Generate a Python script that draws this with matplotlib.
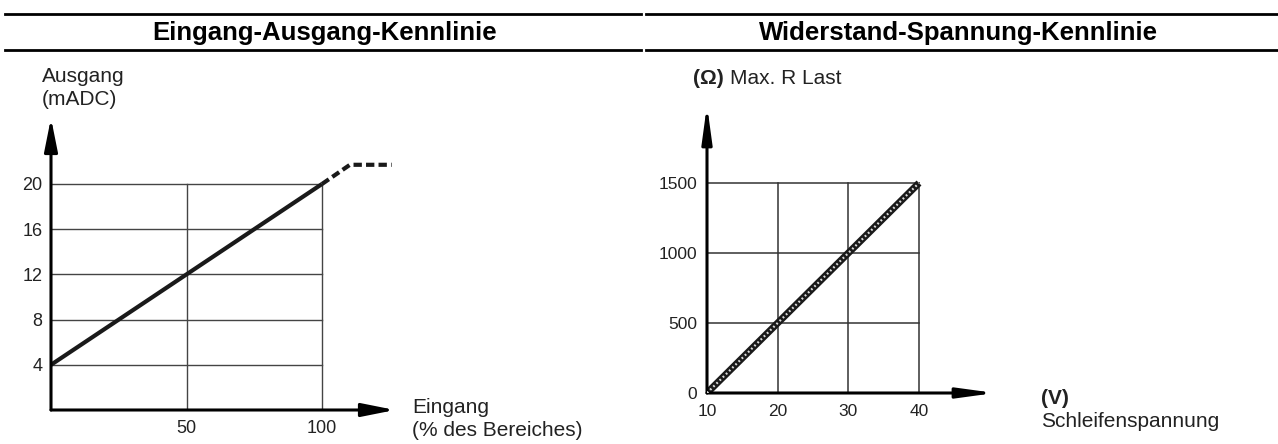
import matplotlib
matplotlib.use("Agg")
import matplotlib.pyplot as plt

plt.rcParams['font.family'] = ['Liberation Sans', 'DejaVu Sans']

# ---- data ----
left_title = "Eingang-Ausgang-Kennlinie"
right_title = "Widerstand-Spannung-Kennlinie"

io_x = [0, 100]              # Eingang (% des Bereiches)
io_y = [4, 20]               # Ausgang (mADC)
io_sat_x = [100, 110.3, 125.7]   # dashed saturation
io_sat_y = [20, 21.7, 21.7]
io_xticks = [50, 100]
io_yticks = [4, 8, 12, 16, 20]

rv_x = [10, 40]              # Schleifenspannung (V)
rv_y = [0, 1500]             # Max. R Last (Ohm)
rv_xticks = [10, 20, 30, 40]
rv_yticks = [0, 500, 1000, 1500]

W, H = 1278, 444
fig = plt.figure(figsize=(W / 100, H / 100), dpi=100)

def fx(px):
    return px / W

def fy(py):
    return 1 - py / H

LAB = 15
TICK = 13

# header lines and titles
for x0, x1, cx, t in [(5, 641, 325, left_title), (646, 1278, 958, right_title)]:
    fig.add_artist(plt.Line2D([fx(x0), fx(x1)], [fy(14), fy(14)], color='black', lw=2.0))
    fig.add_artist(plt.Line2D([fx(x0), fx(x1)], [fy(50), fy(50)], color='black', lw=2.0))
    fig.text(fx(cx), fy(33), t, ha='center', va='center', fontsize=18.5, fontweight='bold')

def arrow(ax, xy0, xy1, lw, hl, hw):
    ax.annotate('', xy=xy1, xytext=xy0, xycoords='data', textcoords='data',
                arrowprops=dict(arrowstyle=f'-|>,head_length={hl},head_width={hw}',
                                lw=lw, color='black', shrinkA=0, shrinkB=0),
                annotation_clip=False)

# ---------------- left chart ----------------
ox, oy, tx, ty = 51, 410, 395, 118
ax = fig.add_axes([fx(ox), fy(oy), fx(tx - ox), (oy - ty) / H])
xmax = 100 * (tx - ox) / (322 - ox)
ymax = 20 * (oy - ty) / (oy - 184)
ax.set_xlim(0, xmax)
ax.set_ylim(0, ymax)
for s in ax.spines.values():
    s.set_visible(False)
ax.set_xticks(io_xticks)
ax.set_yticks(io_yticks)
ax.set_xticklabels([str(v) for v in io_xticks], fontsize=TICK, color='#222222')
ax.set_yticklabels([str(v) for v in io_yticks], fontsize=TICK, color='#222222')
ax.tick_params(length=0)
ax.tick_params(axis='y', pad=6)
ax.tick_params(axis='x', pad=7)
for v in io_yticks:
    ax.plot([0, io_xticks[-1]], [v, v], color='#444444', lw=1.0, zorder=1)
for v in io_xticks:
    ax.plot([v, v], [0, io_yticks[-1]], color='#444444', lw=1.0, zorder=1)
ax.plot(io_x, io_y, color='#1a1a1a', lw=3.0, zorder=3, solid_capstyle='butt')
ax.plot(io_sat_x, io_sat_y, color='#1a1a1a', lw=3.0, ls=(0, (2.0, 1.0)), zorder=3, clip_on=False)
arrow(ax, (0, 0), (xmax, 0), 2.2, 2.0, 0.4)
arrow(ax, (0, 0), (0, ymax), 2.2, 2.0, 0.4)
fig.text(fx(42), fy(76), "Ausgang", fontsize=LAB, va='center', ha='left', color='#222222')
fig.text(fx(42), fy(99), "(mADC)", fontsize=LAB, va='center', ha='left', color='#222222')
fig.text(fx(412), fy(407), "Eingang", fontsize=LAB, va='center', ha='left', color='#222222')
fig.text(fx(412), fy(430), "(% des Bereiches)", fontsize=LAB, va='center', ha='left', color='#222222')

# ---------------- right chart ----------------
ox2, oy2, tx2, ty2 = 707, 393, 995, 105
ax2 = fig.add_axes([fx(ox2), fy(oy2), fx(tx2 - ox2), (oy2 - ty2) / H])
x0 = rv_xticks[0]
xmax2 = x0 + (rv_xticks[-1] - x0) * (tx2 - ox2) / (919 - ox2)
ymax2 = rv_yticks[-1] * (oy2 - ty2) / (oy2 - 183)
ax2.set_xlim(x0, xmax2)
ax2.set_ylim(0, ymax2)
for s in ax2.spines.values():
    s.set_visible(False)
ax2.set_xticks(rv_xticks)
ax2.set_yticks(rv_yticks)
ax2.set_xticklabels([str(v) for v in rv_xticks], fontsize=12.5, color='#222222')
ax2.set_yticklabels([str(v) for v in rv_yticks], fontsize=12.5, color='#222222')
ax2.tick_params(length=0)
ax2.tick_params(axis='y', pad=7)
ax2.tick_params(axis='x', pad=8)
for v in rv_yticks[1:]:
    ax2.plot([x0, rv_xticks[-1]], [v, v], color='#333333', lw=1.1, zorder=1)
for v in rv_xticks[1:]:
    ax2.plot([v, v], [0, rv_yticks[-1]], color='#333333', lw=1.1, zorder=1)
ax2.plot(rv_x, rv_y, color='#1a1a1a', lw=5.0, zorder=3, solid_capstyle='butt')
ax2.plot(rv_x, rv_y, color='#dddddd', lw=1.6, ls=(0, (0.8, 1.2)), zorder=4, solid_capstyle='butt')
arrow(ax2, (x0, 0), (xmax2, 0), 2.2, 2.2, 0.3)
arrow(ax2, (x0, 0), (x0, ymax2), 2.2, 2.2, 0.3)
fig.text(fx(693), fy(78), "(Ω)", fontsize=LAB, va='center', ha='left', fontweight='bold', color='#222222')
fig.text(fx(730), fy(78), "Max. R Last", fontsize=LAB, va='center', ha='left', color='#222222')
fig.text(fx(1041), fy(398), "(V)", fontsize=LAB, va='center', ha='left', fontweight='bold', color='#222222')
fig.text(fx(1041), fy(421), "Schleifenspannung", fontsize=LAB, va='center', ha='left', color='#222222')

fig.savefig("out.png", dpi=100)
